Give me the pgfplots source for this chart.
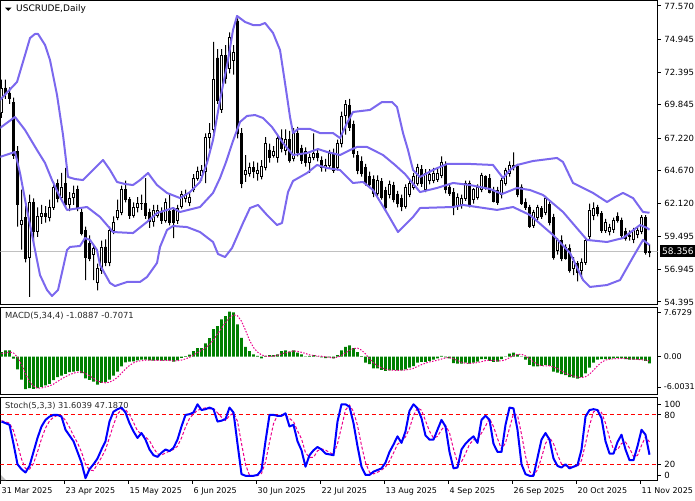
\documentclass[border=0pt]{standalone}
\usepackage{pgfplots}
\pgfplotsset{compat=1.18}
\usepackage{pgfplotstable}
\usepackage{fontspec}
\setmainfont{DejaVu Sans}
\definecolor{bband}{RGB}{123,104,238}
\definecolor{macdgreen}{RGB}{0,128,0}
\definecolor{pline}{RGB}{192,192,192}

\pgfplotstableread{
i O H L C
0 69.2 71.8 68.8 71.1
1 71.15 71.8 70.3 70.75
2 70.75 71.2 69.9 70.3
3 70.0 70.4 65.6 65.9
4 66.2 66.6 60.3 62.0
5 60.5 63.2 58.5 60.8
6 61.0 62.0 57.5 57.8
7 57.9 62.8 54.8 62.2
8 62.2 62.5 58.8 59.9
9 59.9 61.8 59.5 61.1
10 61.1 62.0 60.5 61.3
11 61.3 61.9 60.6 61.1
12 61.0 62.4 60.7 61.8
13 61.8 63.8 61.6 63.4
14 63.7 64.0 62.2 62.5
15 62.6 64.5 62.3 63.4
16 63.7 64.9 61.8 62.0
17 62.0 63.0 61.5 62.5
18 62.6 63.5 62.0 62.9
19 63.2 63.5 61.5 61.75
20 61.4 61.7 59.6 59.8
21 60.0 60.3 56.1 57.9
22 59.0 59.6 57.6 57.8
23 58.1 58.9 56.1 58.6
24 55.9 57.4 55.3 57.05
25 56.9 59.2 56.6 58.7
26 58.7 59.3 57.2 57.5
27 57.5 60.3 57.2 60.0
28 60.0 61.1 59.7 60.6
29 61.0 62.4 60.8 61.6
30 61.4 63.5 61.2 63.2
31 63.2 63.9 62.2 62.4
32 62.4 62.6 60.9 61.2
33 61.2 62.2 61.0 61.8
34 61.8 62.6 61.4 62.1
35 62.1 62.8 61.6 62.15
36 62.1 64.1 60.9 61.2
37 61.4 61.7 60.2 60.7
38 60.7 62.0 60.3 61.6
39 61.2 62.0 61.0 61.6
40 61.4 61.8 60.5 60.8
41 60.8 62.5 60.6 62.2
42 61.5 62.8 60.4 60.6
43 61.6 61.8 59.4 60.6
44 60.8 62.0 60.5 61.7
45 61.9 63.1 61.7 62.8
46 62.5 63.2 62.2 62.8
47 62.2 63.0 61.9 62.6
48 63.2 64.4 63.0 64.1
49 64.1 65.0 63.9 64.6
50 64.3 65.1 63.9 64.7
51 64.6 67.6 63.7 67.3
52 67.3 68.4 66.4 67.6
53 67.9 74.75 67.5 71.8
54 73.5 74.2 69.9 70.2
55 69.5 74.2 69.2 73.7
56 73.7 74.5 71.5 71.9
57 72.7 75.5 72.3 75.1
58 73.3 74.5 72.2 73.9
59 76.4 76.6 67.2 67.6
60 67.6 68.0 63.3 63.7
61 64.4 65.9 63.8 64.7
62 64.5 65.3 64.2 64.9
63 64.9 65.4 64.1 64.6
64 64.5 65.3 63.9 64.7
65 64.2 65.5 64.0 65.0
66 64.9 67.3 64.7 66.8
67 66.3 66.8 65.3 65.7
68 65.9 66.6 65.7 66.2
69 65.7 67.5 65.3 67.2
70 67.2 67.9 66.1 66.4
71 66.3 67.9 65.9 67.1
72 67.1 67.8 65.3 65.5
73 65.6 68.0 65.4 67.6
74 67.6 68.1 65.8 66.1
75 66.4 66.7 65.2 65.5
76 66.2 66.5 65.0 65.3
77 65.3 66.0 64.5 65.7
78 65.7 67.6 65.5 66.0
79 66.0 66.3 65.4 65.7
80 65.5 65.8 64.6 64.9
81 64.9 65.6 64.6 65.1
82 65.1 66.3 64.9 66.0
83 66.0 66.4 64.5 64.7
84 64.9 67.1 64.7 66.8
85 66.8 69.3 66.5 68.9
86 69.0 70.2 67.5 69.9
87 69.8 70.3 67.8 68.1
88 68.3 68.6 65.7 66.0
89 65.9 66.2 64.4 64.7
90 65.4 65.8 64.2 64.5
91 64.9 65.2 63.5 63.7
92 64.2 64.6 63.3 63.6
93 64.0 64.3 62.6 62.9
94 62.9 64.3 62.7 63.9
95 63.8 64.1 62.4 62.6
96 63.1 63.4 61.5 61.8
97 62.8 63.9 62.5 63.6
98 63.5 63.8 62.2 62.4
99 62.8 63.1 61.8 62.1
100 62.5 62.8 61.5 61.9
101 61.9 63.6 61.7 63.4
102 62.8 64.0 62.6 63.7
103 63.4 64.5 63.2 64.2
104 63.7 65.2 63.5 64.9
105 64.8 65.1 63.4 63.7
106 63.2 64.8 63.0 64.5
107 63.9 64.8 63.6 64.4
108 63.9 64.9 63.7 64.5
109 64.0 64.8 63.8 64.5
110 64.3 65.8 64.1 65.35
111 65.1 65.4 62.9 63.2
112 63.4 63.7 62.7 62.9
113 63.0 63.3 61.2 61.9
114 61.9 62.9 61.6 62.6
115 62.0 62.8 61.7 62.5
116 62.5 63.9 62.3 63.7
117 63.7 63.9 61.8 62.0
118 62.4 63.3 62.1 63.2
119 62.6 63.6 62.4 63.4
120 63.2 64.5 63.0 64.3
121 64.2 64.3 63.2 63.4
122 64.1 64.4 62.9 63.0
123 63.1 63.4 62.2 62.3
124 63.1 63.4 62.0 62.2
125 62.8 64.1 62.5 63.9
126 63.7 64.9 63.5 64.7
127 64.5 65.4 64.2 65.1
128 64.9 66.1 64.7 65.1
129 65.0 65.2 62.6 62.8
130 63.4 63.6 62.0 62.1
131 62.2 62.5 61.6 61.8
132 61.8 62.0 60.2 60.3
133 60.4 61.6 60.2 61.4
134 61.0 62.0 60.8 61.8
135 61.7 61.9 60.9 61.1
136 61.4 62.7 61.2 62.5
137 62.0 62.3 60.4 60.6
138 61.0 61.3 57.7 57.9
139 58.4 59.4 58.1 59.2
140 59.2 59.6 57.6 57.8
141 58.7 58.9 57.7 57.8
142 58.6 58.9 56.7 56.9
143 57.0 57.9 56.5 57.6
144 57.4 57.6 56.0 56.7
145 56.9 57.8 56.2 57.5
146 57.5 59.4 57.3 59.2
147 59.5 62.1 59.2 61.6
148 61.2 62.2 60.8 61.7
149 61.8 62.0 61.1 61.3
150 61.3 61.5 59.8 60.0
151 60.0 60.9 59.8 60.6
152 59.9 60.5 59.6 60.2
153 60.1 61.0 59.8 60.8
154 61.1 61.4 60.6 60.8
155 60.8 61.0 59.4 59.6
156 59.9 60.2 59.2 59.4
157 59.6 60.0 59.2 59.5
158 59.3 60.2 59.0 60.0
159 59.7 60.2 59.4 60.0
160 59.9 61.2 59.7 61.0
161 61.0 61.2 58.1 58.3
162 58.3 58.9 57.9 58.36
}\pricedata

\pgfplotstableread{
x y
-0.38 70.21
3.88 71.62
5.88 73.73
7.13 75.06
8.38 75.38
9.13 75.38
10.88 74.52
12.13 73.34
13.88 70.60
15.38 67.47
16.63 64.18
18.38 64.02
20.38 63.94
22.88 64.73
25.38 65.51
27.13 64.73
28.88 63.79
30.88 63.63
32.88 63.55
34.63 63.94
36.63 64.49
38.88 63.55
41.38 62.93
44.63 62.53
47.13 63.00
49.63 63.79
51.38 65.28
52.88 67.08
54.63 70.21
56.63 73.34
57.88 75.69
58.88 76.79
60.88 76.32
62.88 76.08
64.63 76.08
65.88 76.24
67.88 75.46
69.63 74.12
70.88 71.54
72.13 68.88
72.88 67.62
74.13 67.94
77.13 67.94
79.63 67.62
82.88 67.62
84.63 67.23
86.38 68.41
87.88 69.27
92.13 69.43
95.13 70.05
97.63 70.05
98.88 69.66
100.38 67.62
101.63 66.29
102.88 64.73
104.63 64.18
107.88 64.73
111.38 65.20
117.13 65.20
122.88 65.12
125.38 64.10
127.13 64.73
128.88 65.12
132.88 65.43
138.88 65.67
140.38 65.35
142.88 63.71
147.88 62.93
151.38 62.22
153.38 62.61
155.38 62.93
157.88 62.53
160.38 61.44
162 61.38
}\upperband

\pgfplotstableread{
x y
-0.38 68.02
3.38 68.88
5.88 67.86
8.88 66.29
10.88 65.28
12.63 63.94
14.63 62.61
16.38 61.60
19.63 61.75
21.38 61.83
24.63 61.05
27.88 59.87
32.88 59.79
36.38 60.66
38.88 61.36
41.38 61.60
42.88 61.75
44.63 61.44
49.63 61.83
52.88 62.93
54.63 64.10
56.13 65.35
57.88 67.00
59.63 68.49
61.38 68.96
63.38 69.03
65.38 68.80
67.63 68.09
70.38 66.84
72.88 65.90
76.38 66.06
79.13 66.37
81.38 66.14
84.63 65.90
87.13 66.29
88.88 66.53
91.38 66.53
95.38 65.90
98.38 65.12
100.88 64.41
104.63 63.00
108.88 63.32
112.88 63.71
117.13 63.55
122.13 63.24
125.13 62.85
128.88 63.32
132.13 63.16
135.38 62.77
140.38 61.44
146.38 59.25
151.38 59.09
155.38 59.40
159.63 60.42
161.38 60.19
162 60.05
}\middleband

\pgfplotstableread{
x y
-0.38 65.75
3.38 66.14
4.63 64.49
6.38 61.60
7.88 59.25
9.63 56.50
11.38 55.33
12.63 54.86
14.13 55.33
15.38 57.05
16.38 58.46
17.13 58.70
19.63 58.78
20.88 59.40
22.13 59.25
23.88 58.46
24.63 57.29
27.13 55.88
28.38 55.64
31.38 55.96
34.63 55.96
36.38 56.35
38.88 57.45
39.63 58.70
41.38 60.03
42.88 60.34
46.38 60.26
49.63 59.87
52.88 59.09
54.13 58.15
55.88 57.91
57.63 58.62
60.38 60.58
62.13 61.75
64.13 61.99
66.38 61.20
68.88 60.42
70.13 60.58
71.63 63.00
72.88 63.87
76.38 64.49
78.88 65.12
81.38 64.88
84.63 64.73
87.88 63.71
90.38 63.79
92.88 63.16
96.38 61.36
99.13 59.87
102.88 61.05
104.63 61.75
112.88 61.83
115.38 61.99
123.88 61.60
127.88 61.83
132.13 61.20
137.88 59.64
142.13 58.23
145.38 56.11
147.13 55.57
151.38 55.72
154.63 56.11
157.88 57.91
160.38 59.25
162 58.85
}\lowerband

\pgfplotstableread{
i h s
0 0.7 0.45
1 0.95 0.55
2 0.95 0.7
3 -0.35 0.55
4 -2.0 -0.1
5 -3.6 -1.25
6 -5.1 -2.7
7 -4.95 -3.9
8 -5.05 -4.6
9 -4.95 -4.95
10 -4.75 -4.9
11 -4.5 -4.75
12 -4.25 -4.6
13 -3.7 -4.3
14 -3.2 -3.9
15 -3.0 -3.5
16 -2.7 -3.15
17 -2.45 -2.85
18 -2.35 -2.6
19 -2.25 -2.45
20 -2.6 -2.4
21 -3.4 -2.65
22 -3.65 -3.0
23 -3.9 -3.4
24 -4.4 -3.85
25 -4.1 -4.0
26 -4.0 -4.1
27 -3.6 -4.0
28 -3.0 -3.7
29 -2.35 -3.25
30 -1.55 -2.6
31 -0.9 -1.95
32 -0.8 -1.4
33 -0.75 -1.0
34 -0.6 -0.75
35 -0.5 -0.65
36 -0.5 -0.58
37 -0.6 -0.56
38 -0.65 -0.58
39 -0.6 -0.6
40 -0.65 -0.62
41 -0.6 -0.62
42 -0.65 -0.62
43 -0.8 -0.68
44 -0.6 -0.66
45 -0.2 -0.56
46 0.05 -0.38
47 0.3 -0.12
48 0.85 0.25
49 1.3 0.62
50 1.3 0.95
51 2.05 1.35
52 2.85 1.85
53 4.25 2.6
54 4.75 3.5
55 5.8 4.4
56 6.3 5.3
57 7.0 6.0
58 6.9 6.5
59 5.0 6.35
60 2.9 5.5
61 1.5 4.1
62 0.85 2.55
63 0.35 1.4
64 0.1 0.7
65 -0.3 0.25
66 0.1 0.05
67 0.2 0.03
68 0.2 0.05
69 0.35 0.2
70 0.85 0.4
71 0.95 0.58
72 0.75 0.72
73 0.95 0.87
74 0.6 0.8
75 0.35 0.66
76 0.02 0.47
77 0.1 0.26
78 0.2 0.16
79 0.02 0.08
80 -0.15 0.04
81 -0.25 -0.05
82 -0.15 -0.15
83 -0.3 -0.21
84 0.2 -0.12
85 0.95 0.18
86 1.5 0.58
87 1.75 0.95
88 1.3 1.25
89 0.7 1.3
90 0.05 1.0
91 -0.95 0.4
92 -1.2 -0.35
93 -1.85 -1.0
94 -1.85 -1.45
95 -2.1 -1.75
96 -2.25 -2.0
97 -2.15 -2.1
98 -2.1 -2.15
99 -2.15 -2.15
100 -2.15 -2.14
101 -2.0 -2.1
102 -1.75 -2.0
103 -1.5 -1.85
104 -0.95 -1.55
105 -0.85 -1.27
106 -0.85 -1.04
107 -0.7 -0.84
108 -0.5 -0.72
109 -0.3 -0.58
110 0.1 -0.4
111 -0.15 -0.22
112 -0.3 -0.16
113 -1.05 -0.35
114 -1.1 -0.63
115 -1.1 -0.9
116 -0.95 -1.05
117 -1.1 -1.06
118 -0.95 -1.04
119 -0.8 -0.95
120 -0.4 -0.8
121 -0.4 -0.64
122 -0.7 -0.58
123 -0.85 -0.6
124 -0.8 -0.69
125 -0.4 -0.69
126 0.02 -0.51
127 0.45 -0.19
128 0.6 0.16
129 0.35 0.35
130 0.02 0.35
131 -0.5 0.11
132 -1.3 -0.36
133 -1.55 -0.84
134 -1.55 -1.23
135 -1.45 -1.46
136 -1.3 -1.46
137 -1.45 -1.44
138 -2.35 -1.64
139 -2.5 -1.9
140 -2.75 -2.26
141 -2.9 -2.62
142 -3.2 -2.84
143 -3.3 -3.04
144 -3.45 -3.21
145 -3.2 -3.29
146 -2.65 -3.15
147 -1.75 -2.77
148 -0.95 -2.14
149 -0.5 -1.46
150 -0.4 -0.9
151 -0.4 -0.56
152 -0.4 -0.42
153 -0.3 -0.37
154 -0.2 -0.32
155 -0.3 -0.3
156 -0.4 -0.3
157 -0.5 -0.35
158 -0.5 -0.42
159 -0.5 -0.47
160 -0.5 -0.5
161 -0.7 -0.55
162 -1.09 -0.71
}\macddata

\pgfplotstableread{
i k d
0 72 73
1 70 71.7
2 68 70
3 45 61
4 20 44.3
5 14 26.3
6 10 14.7
7 18 14
8 35 21
9 52 35
10 66 51
11 74 64
12 78 72.7
13 80 77.3
14 80 79.3
15 78 79.3
16 62 73.3
17 55 65
18 48 55
19 35 46
20 22 35
21 3 20
22 14 13
23 20 12.3
24 27 20.3
25 38 28.3
26 48 37.7
27 72 52.7
28 84 68
29 87 81
30 89 86.7
31 83 86.3
32 70 80.7
33 60 71
34 52 60.7
35 58 56.7
36 50 53.3
37 38 48.7
38 31 39.7
39 29 32.7
40 34 31.3
41 38 33.7
42 36 36
43 40 38
44 50 42
45 66 52
46 80 65.3
47 81 75.7
48 83 81.3
49 93 85.7
50 86 87.3
51 87 88.7
52 89 87.3
53 87 87.7
54 72 82.7
55 73 77.3
56 75 73.3
57 89 79
58 83 82.3
59 45 72.3
60 8 45.3
61 6 19.7
62 6 6.7
63 6 6
64 7 6.3
65 13 8.7
66 48 22.7
67 80 47
68 80 69.3
69 79 79.7
70 79 79.3
71 82 80
72 66 75.7
73 68 72
74 48 60.7
75 37 51
76 17 34
77 31 28.3
78 37 28.3
79 41 36.3
80 38 38.7
81 33 37.3
82 32 34.3
83 31 32
84 72 45
85 93 65.3
86 93 86
87 90 92
88 70 84.3
89 42 67.3
90 17 43
91 7 22
92 7 10.3
93 11 8.3
94 13 10.3
95 15 13
96 22 16.7
97 35 24
98 44 33.7
99 54 44.3
100 46 48
101 60 53.3
102 85 63.7
103 93 79.3
104 88 88.7
105 76 85.7
106 55 73
107 50 60.3
108 50 51.7
109 62 54
110 74 62
111 66 67.3
112 35 58.3
113 15 38.7
114 16 22
115 38 23
116 45 33
117 50 44.3
118 54 49.7
119 46 50
120 74 58
121 79 66.3
122 74 75.7
123 45 66
124 35 51.3
125 35 38.3
126 68 46
127 89 64
128 88 81.7
129 62 79.7
130 20 56.7
131 8 30
132 6 11.3
133 6 6.7
134 28 13.3
135 50 28
136 58 45.3
137 50 52.7
138 27 45
139 18 31.7
140 16 20.3
141 20 18
142 15 17
143 17 17.3
144 19 17
145 38 24.7
146 78 45
147 86 67.3
148 87 83.7
149 86 86.3
150 76 83
151 48 70
152 33 52.3
153 33 38
154 47 37.7
155 56 45.3
156 38 47
157 25 39.7
158 25 29.3
159 42 30.7
160 62 43
161 56 53.3
162 31.6 47.19
}\stochdata

\begin{document}
\begin{tikzpicture}[x=1pt,y=1pt]
\useasboundingbox (0pt,0pt) rectangle (695pt,500pt);
\pgfplotsset{
  mtpanel/.style={
    scale only axis, width=657.2pt, anchor=south west,
    xmin=-0.25, xmax=164.05, enlargelimits=false,
    axis line style={black, line width=1pt},
    tick align=outside, major tick length=3pt,
    tick style={black, line width=1pt},
    ytick pos=right, yticklabel pos=right,
    yticklabel style={anchor=west, inner sep=0pt, xshift=3.5pt,
      font=\fontsize{8.5}{10}\selectfont, text=black},
    xtick=\empty, clip=true,
  },
  hiddenpanel/.style={
    scale only axis, width=657.2pt, anchor=south west,
    xmin=-0.25, xmax=164.05, enlargelimits=false, hide axis, clip=true,
  },
}
% ---------- price panel: frame, ticks, price line
\begin{axis}[mtpanel, at={(0.5pt,195.3pt)}, height=304.2pt, ymin=54.18, ymax=78.0,
  ytick={77.57,74.945,72.395,69.845,67.22,64.67,62.12,59.495,56.945,54.395},
  yticklabels={77.570,74.945,72.395,69.845,67.220,64.670,62.120,59.495,56.945,54.395}]
\addplot[pline, line width=1pt] coordinates {(-0.25,58.356) (164.05,58.356)};
\end{axis}
% ---------- wicks
\begin{axis}[hiddenpanel, at={(0.5pt,195.3pt)}, height=304.2pt, ymin=54.18, ymax=78.0,
  ybar stacked, bar width=1pt]
\addplot[draw=none, fill=none] table[x=i, y=L] {\pricedata};
\addplot[draw=none, fill=black] table[x=i, y expr={\thisrow{H}-\thisrow{L}}] {\pricedata};
\end{axis}
% ---------- bodies
\begin{axis}[hiddenpanel, at={(0.5pt,195.3pt)}, height=304.2pt, ymin=54.18, ymax=78.0,
  ybar stacked, bar width=2.2pt]
\addplot[draw=none, fill=none] table[x=i, y expr={min(\thisrow{O},\thisrow{C})}] {\pricedata};
\addplot[draw=black, fill=white, line width=0.8pt] table[x=i, y expr={max(\thisrow{C}-\thisrow{O},0)}] {\pricedata};
\addplot[draw=black, fill=black, line width=0.8pt] table[x=i, y expr={max(\thisrow{O}-\thisrow{C},0)}] {\pricedata};
\end{axis}
% ---------- Bollinger bands
\begin{axis}[hiddenpanel, at={(0.5pt,195.3pt)}, height=304.2pt, ymin=54.18, ymax=78.0]
\addplot[bband, line width=2pt, line join=round] table[x=x,y=y] {\upperband};
\addplot[bband, line width=2pt, line join=round] table[x=x,y=y] {\middleband};
\addplot[bband, line width=2pt, line join=round] table[x=x,y=y] {\lowerband};
\end{axis}
% ---------- MACD
\begin{axis}[mtpanel, at={(0.5pt,105pt)}, height=87.7pt, ymin=-6.0031, ymax=7.6729,
  ytick={6.79,0,-4.76}, yticklabels={7.6729,0.00,-6.0031},
  yticklabel style={font=\fontsize{8}{10}\selectfont, xshift=-0.5pt}]
\addplot[ybar, bar width=2.6pt, fill=macdgreen, draw=none] table[x=i,y=h] {\macddata};
\addplot[magenta, line width=1pt, dash pattern=on 1.5pt off 1.5pt] table[x=i,y=s] {\macddata};
\end{axis}
% ---------- Stochastic
\begin{axis}[mtpanel, at={(0.5pt,19.3pt)}, height=83.4pt, ymin=0, ymax=101.5,
  ytick={93.3,80,20,6.9}, yticklabels={100,80,20,0},
  xtick={-0.25,15.75,31.75,47.75,63.75,79.75,95.75,111.75,127.75,143.75,159.75},
  xticklabels={31 Mar 2025,23 Apr 2025,15 May 2025,6 Jun 2025,30 Jun 2025,22 Jul 2025,13 Aug 2025,4 Sep 2025,26 Sep 2025,20 Oct 2025,11 Nov 2025},
  xtick pos=bottom,
  xticklabel style={anchor=north west, inner sep=0pt, xshift=1pt, yshift=-4pt,
    font=\fontsize{8}{9}\selectfont, text=black}]
\addplot[red, line width=1pt, dash pattern=on 4pt off 3pt] coordinates {(-0.25,80) (164.05,80)};
\addplot[red, line width=1pt, dash pattern=on 4pt off 3pt] coordinates {(-0.25,20) (164.05,20)};
\addplot[magenta, line width=1pt, dash pattern=on 3pt off 2pt] table[x=i,y=d] {\stochdata};
\addplot[blue, line width=2pt, line join=round] table[x=i,y=k] {\stochdata};
\end{axis}
% ---------- texts and small decorations
\fill[black] (5pt,492.3pt) -- (11.5pt,492.3pt) -- (8.25pt,489pt) -- cycle;
\node[anchor=west, inner sep=0pt, font=\fontsize{9}{10}\selectfont] at (16pt,491pt) {USCRUDE,Daily};
\node[anchor=west, inner sep=0pt, font=\fontsize{8.4}{10}\selectfont, text=black!85] at (5pt,184pt) {MACD(5,34,4) -1.0887 -0.7071};
\node[anchor=west, inner sep=0pt, font=\fontsize{8.2}{10}\selectfont, text=black!85] at (5pt,94pt) {Stoch(5,3,3) 31.6039 47.1870};
\fill[black!25] (1pt,20pt) -- (6pt,20pt) -- (1pt,25pt) -- cycle;
\fill[black] (659.5pt,243.3pt) rectangle (695pt,254.5pt);
\node[anchor=west, inner sep=0pt, font=\fontsize{9}{10}\selectfont, text=white] at (662pt,249pt) {58.356};
\end{tikzpicture}
\end{document}
